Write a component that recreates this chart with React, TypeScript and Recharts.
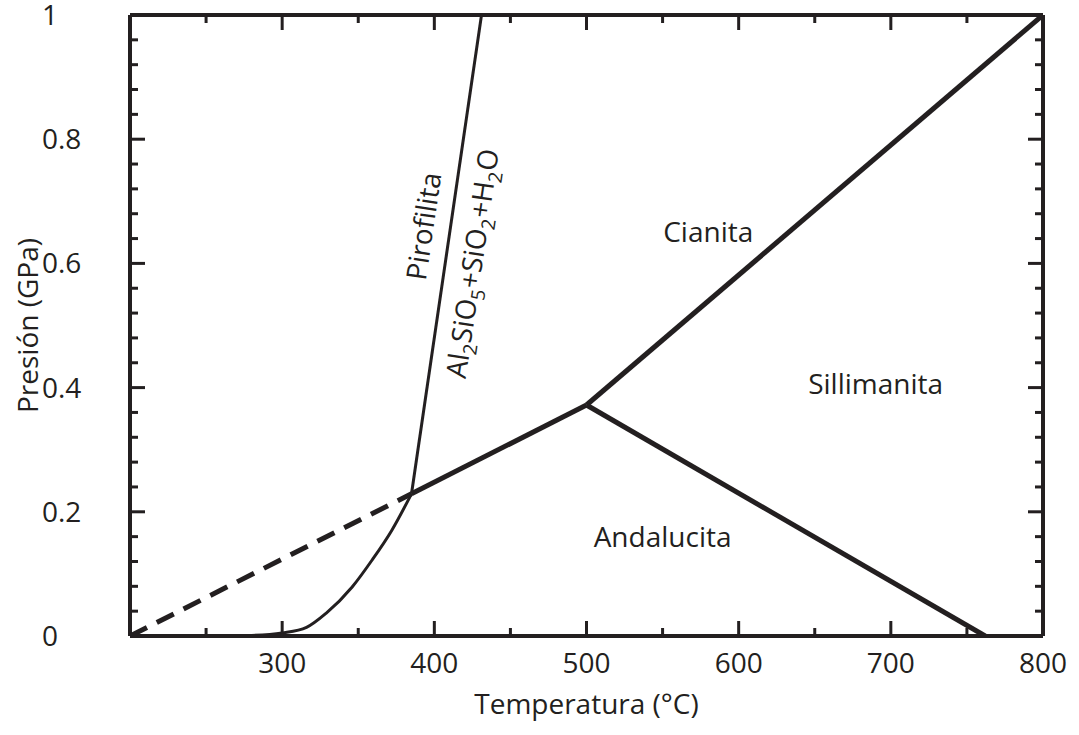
import React from 'react';
import { ComposedChart, Line, XAxis, YAxis, ReferenceDot, Label } from 'recharts';

// Axis ticks (temperature in °C, pressure in GPa)
const tempTicks = [200, 250, 300, 350, 400, 450, 500, 550, 600, 650, 700, 750, 800];
const tempLabels = [300, 400, 500, 600, 700, 800];
const pressureTicks = [0, 0.04, 0.08, 0.12, 0.16, 0.2, 0.24, 0.28, 0.32, 0.36, 0.4, 0.44, 0.48, 0.52, 0.56, 0.6, 0.64, 0.68, 0.72, 0.76, 0.8, 0.84, 0.88, 0.92, 0.96, 1];
const pressureLabels = [0, 0.2, 0.4, 0.6, 0.8, 1];

// Phase boundaries of the Al2SiO5 polymorphs
const andalusiteKyanite = [
  { t: 385, p: 0.229 },
  { t: 500, p: 0.372 },
];
const andalusiteKyaniteMetastable = [
  { t: 200, p: 0.0 },
  { t: 385, p: 0.229 },
];
const kyaniteSillimanite = [
  { t: 500, p: 0.372 },
  { t: 800, p: 1.0 },
];
const andalusiteSillimanite = [
  { t: 500, p: 0.372 },
  { t: 762, p: 0.0 },
];

// Pyrophyllite breakdown curve
const pyrophylliteLow = [
  { t: 255, p: 0.0 },
  { t: 280, p: 0.001 },
  { t: 300, p: 0.005 },
  { t: 316, p: 0.014 },
  { t: 329, p: 0.037 },
  { t: 346, p: 0.079 },
  { t: 359, p: 0.122 },
  { t: 372, p: 0.17 },
  { t: 385, p: 0.229 },
];
const pyrophylliteHigh = [
  { t: 385, p: 0.229 },
  { t: 431, p: 1.0 },
];

// Field names and their anchor points
const fieldLabels = [
  { name: 'Cianita', t: 580, p: 0.65 },
  { name: 'Sillimanita', t: 690, p: 0.405 },
  { name: 'Andalucita', t: 550, p: 0.159 },
];
const pyrophylliteLabel = { name: 'Pirofilita', t: 393, p: 0.66 };
const reactionLabel = { t: 425, p: 0.6 };

const INK = '#231f20';
const FONT = '"Open Sans", "Noto Sans", sans-serif';
const FS = 28;
const SUB = 19;
const MAJOR = 15;
const MINOR = 8;
const ANGLE = -81.7;

const BottomTick = (props: any) => {
  const { x, y, payload } = props;
  const v = payload.value;
  const major = v % 100 === 0;
  const show = tempLabels.includes(v);
  return (
    <g>
      {v !== 200 && v !== 800 && (
        <line x1={x} x2={x} y1={y} y2={y - (major ? MAJOR : MINOR)} stroke={INK} strokeWidth={3} />
      )}
      {show && (
        <text x={x} y={y + 37} textAnchor="middle" fontFamily={FONT} fontSize={FS} fill={INK}>
          {v}
        </text>
      )}
    </g>
  );
};

const TopTick = (props: any) => {
  const { x, y, payload } = props;
  const v = payload.value;
  if (v === 200 || v === 800) return <g />;
  const major = v % 100 === 0;
  return <line x1={x} x2={x} y1={y} y2={y + (major ? MAJOR : MINOR)} stroke={INK} strokeWidth={3} />;
};

const LeftTick = (props: any) => {
  const { x, y, payload } = props;
  const v = payload.value;
  const major = pressureLabels.includes(v);
  return (
    <g>
      {v !== 0 && v !== 1 && (
        <line x1={x} x2={x + (major ? MAJOR : MINOR)} y1={y} y2={y} stroke={INK} strokeWidth={3} />
      )}
      {major && (
        <text x={42} y={y + 10} textAnchor="start" fontFamily={FONT} fontSize={FS} fill={INK}>
          {v}
        </text>
      )}
    </g>
  );
};

const RightTick = (props: any) => {
  const { x, y, payload } = props;
  const v = payload.value;
  if (v === 0 || v === 1) return <g />;
  const major = pressureLabels.includes(v);
  return <line x1={x} x2={x - (major ? MAJOR : MINOR)} y1={y} y2={y} stroke={INK} strokeWidth={3} />;
};

const FieldText = (text: string) => (props: any) => {
  const { viewBox } = props;
  const cx = viewBox.x + (viewBox.width || 0) / 2;
  const cy = viewBox.y + (viewBox.height || 0) / 2;
  return (
    <text x={cx} y={cy + 10} textAnchor="middle" fontFamily={FONT} fontSize={FS} fill={INK}>
      {text}
    </text>
  );
};

const RotatedText = (children: React.ReactNode) => (props: any) => {
  const { viewBox } = props;
  const cx = viewBox.x + (viewBox.width || 0) / 2;
  const cy = viewBox.y + (viewBox.height || 0) / 2;
  return (
    <text
      x={cx}
      y={cy + 10}
      textAnchor="middle"
      fontFamily={FONT}
      fontSize={FS}
      fill={INK}
      transform={`rotate(${ANGLE}, ${cx}, ${cy})`}
    >
      {children}
    </text>
  );
};

const reactionText = (
  <>
    <tspan>Al</tspan>
    <tspan dy={7} fontSize={SUB}>2</tspan>
    <tspan dy={-7}>SiO</tspan>
    <tspan dy={7} fontSize={SUB}>5</tspan>
    <tspan dy={-7}>+SiO</tspan>
    <tspan dy={7} fontSize={SUB}>2</tspan>
    <tspan dy={-7}>+H</tspan>
    <tspan dy={7} fontSize={SUB}>2</tspan>
    <tspan dy={-7}>O</tspan>
  </>
);

const axisLine = { stroke: INK, strokeWidth: 4 };

export default function App() {
  return (
    <div style={{ position: 'absolute', left: 0, top: 0, background: '#fff' }}>
      <ComposedChart width={1079} height={735} margin={{ top: 14, right: 35, bottom: 0, left: 0 }}>
        <XAxis
          xAxisId="bottom"
          dataKey="t"
          type="number"
          domain={[200, 800]}
          ticks={tempTicks}
          interval={0}
          allowDataOverflow
          orientation="bottom"
          height={99}
          tickSize={0}
          tickMargin={0}
          tickLine={false}
          axisLine={axisLine}
          tick={<BottomTick />}
        >
          <Label
            content={(props: any) => {
              const vb = props.viewBox;
              return (
                <text x={vb.x + vb.width / 2} y={vb.y + 78} textAnchor="middle" fontFamily={FONT} fontSize={FS} fill={INK}>
                  Temperatura (°C)
                </text>
              );
            }}
          />
        </XAxis>
        {/* 1px-thick top and right axes close the frame */}
        <XAxis
          xAxisId="top"
          dataKey="t"
          type="number"
          domain={[200, 800]}
          ticks={tempTicks}
          interval={0}
          allowDataOverflow
          orientation="top"
          height={1}
          tickSize={0}
          tickMargin={0}
          tickLine={false}
          axisLine={axisLine}
          tick={<TopTick />}
        />
        <YAxis
          yAxisId="left"
          dataKey="p"
          type="number"
          domain={[0, 1]}
          ticks={pressureTicks}
          interval={0}
          allowDataOverflow
          orientation="left"
          width={130}
          tickSize={0}
          tickMargin={0}
          tickLine={false}
          axisLine={axisLine}
          tick={<LeftTick />}
        >
          <Label
            content={(props: any) => {
              const vb = props.viewBox;
              const cx = 38;
              const cy = vb.y + vb.height / 2;
              return (
                <text x={cx} y={cy} textAnchor="middle" fontFamily={FONT} fontSize={FS} fill={INK} transform={`rotate(-90, ${cx}, ${cy})`}>
                  Presión (GPa)
                </text>
              );
            }}
          />
        </YAxis>
        <YAxis
          yAxisId="right"
          dataKey="p"
          type="number"
          domain={[0, 1]}
          ticks={pressureTicks}
          interval={0}
          allowDataOverflow
          orientation="right"
          width={1}
          tickSize={0}
          tickMargin={0}
          tickLine={false}
          axisLine={axisLine}
          tick={<RightTick />}
        />

        <Line xAxisId="bottom" yAxisId="left" data={andalusiteKyaniteMetastable} dataKey="p" type="linear"
          stroke={INK} strokeWidth={5} strokeDasharray="19 11" dot={false} isAnimationActive={false} />
        <Line xAxisId="bottom" yAxisId="left" data={andalusiteKyanite} dataKey="p" type="linear"
          stroke={INK} strokeWidth={5} dot={false} isAnimationActive={false} />
        <Line xAxisId="top" yAxisId="right" data={kyaniteSillimanite} dataKey="p" type="linear"
          stroke={INK} strokeWidth={5} dot={false} isAnimationActive={false} />
        <Line xAxisId="bottom" yAxisId="left" data={andalusiteSillimanite} dataKey="p" type="linear"
          stroke={INK} strokeWidth={5} dot={false} isAnimationActive={false} />
        <Line xAxisId="bottom" yAxisId="left" data={pyrophylliteLow} dataKey="p" type="monotone"
          stroke={INK} strokeWidth={3} dot={false} isAnimationActive={false} />
        <Line xAxisId="bottom" yAxisId="left" data={pyrophylliteHigh} dataKey="p" type="linear"
          stroke={INK} strokeWidth={3} dot={false} isAnimationActive={false} />

        {fieldLabels.map((f) => (
          <ReferenceDot key={f.name} xAxisId="bottom" yAxisId="left" x={f.t} y={f.p} r={0}
            fill="none" stroke="none" label={{ content: FieldText(f.name) } as any} />
        ))}
        <ReferenceDot xAxisId="bottom" yAxisId="left" x={pyrophylliteLabel.t} y={pyrophylliteLabel.p} r={0}
          fill="none" stroke="none" label={{ content: RotatedText(pyrophylliteLabel.name) } as any} />
        <ReferenceDot xAxisId="bottom" yAxisId="left" x={reactionLabel.t} y={reactionLabel.p} r={0}
          fill="none" stroke="none" label={{ content: RotatedText(reactionText) } as any} />
      </ComposedChart>
    </div>
  );
}
